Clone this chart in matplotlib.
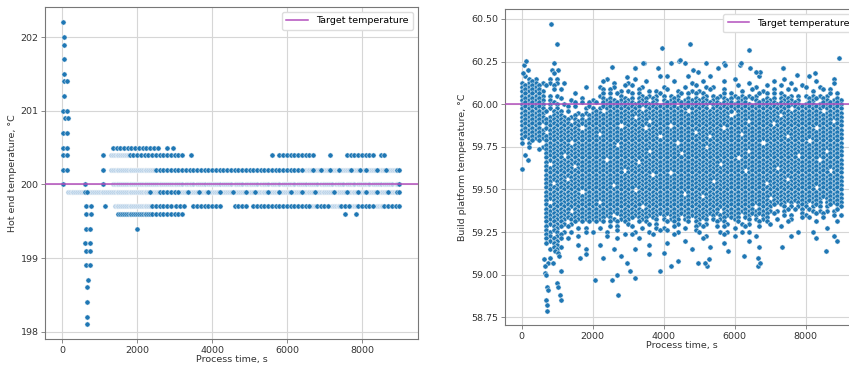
import matplotlib
matplotlib.use("Agg")
import matplotlib.pyplot as plt

# Hot end log: the sensor reports in 0.1 degree steps, so each level is stored
# as a row of 1000 s groups, one character per 50 s.
#   "#" = single reading, ":" = densely sampled stretch
hot_levels = [200.5, 200.4, 200.2, 200.0, 199.9, 199.7, 199.6]
hot_rows = [
    ". .......#.#.#.#.#.#.# .#.#.#.#.#.#....#..#",
    ". ..#...::::::::::#.#. #.#.#.#.#.#.#.#.#.#. #.#.#....# . "
    "............#...#.#. #.#.#.#.#.#.#.#..... ...#........#.#.#.#. #.#.#.#...#.#.......",
    ". ..#...:::::::::::::: ::::::::::#.#.#.#.#. #.#.#.#.#.#.#.#.#.#. #.#.#.#.#.#.#.#.#.#. "
    "#.#.#.#.#.#.#.#.#.#. #.#.#.#.#.::::#:::#: :::#::::#:::::#::::# ::#:::::#::::#:::::# #",
    ". ..#....::::::::::::: :::::::::::::::::::: :::::.:::::.:::::.:: :::::.:::::.:::::.:: "
    ":::::.:::::.:::::.:: :::::.:::::.:::::.:: :::::.:::::.:::::.:: :::::.:::::.:::::.:: #",
    "...::::::::::::::::: :::::::::::::::::::: :::::::#::::#:#:#:#: #:#::::#:::::#::::#: "
    "::::#::::::#::::::#: :::#::::::#:::::#::: ::#:::::#::::::#:::: :::::#::::::#:::::#: "
    "::#:::::#:::::#::::# #",
    ". ...#....:::::::::::: ::::::::#.#.#.#.#.#. .#.#.#....#.#.#.#.#. #.#.#.......#.#.#.#. "
    "..#.#.#.#.#.#.#.#.#. #.#.#.#.#.#.#:::#.#. #.#.:::::#.#.#::::#. #.#.#.#.::::#.#.#.#. #",
    ". ..........########## #########.#.#.#.#.#. #.#.#............... . . . "
    "...........#.....#..",
]
# warm-up overshoot and the dip after the first layer
hot_extra_t = [26, 44, 53, 44, 44, 44, 115, 44, 26, 115, 62, 150, 26, 115,
               26, 115, 26, 130, 26, 140, 10,
               621, 621, 660, 648, 773, 648, 773, 648, 755, 621, 737, 648,
               737, 648, 737, 693, 675, 675, 675, 675, 1985]
hot_extra_temp = [202.2, 202.0, 201.9, 201.7, 201.5, 201.4, 201.4, 201.2,
                  201.0, 201.0, 200.9, 200.9, 200.7, 200.7, 200.5, 200.5,
                  200.4, 200.4, 200.2, 200.2, 200.0,
                  200.0, 199.9, 199.9, 199.7, 199.7, 199.6, 199.6, 199.4,
                  199.4, 199.2, 199.2, 199.1, 199.1, 198.9, 198.9, 198.7,
                  198.6, 198.4, 198.2, 198.1, 199.4]
hot_target = 200.0

# Build platform log: bulk of the cloud on a 100 s x 0.025 degree grid,
# one row per level, 1000 s per group (odd 100 s bins sit half a step up).
plat_levels = [60.15, 60.125, 60.1, 60.075, 60.05, 60.025, 60.0, 59.975,
               59.95, 59.925, 59.9, 59.875, 59.85, 59.825, 59.8, 59.775,
               59.75, 59.725, 59.7, 59.675, 59.65, 59.625, 59.6, 59.575,
               59.55, 59.525, 59.5, 59.475, 59.45, 59.425, 59.4, 59.375,
               59.35, 59.325, 59.3, 59.275, 59.25, 59.225, 59.2, 59.175, 59.15]
plat_half_step = 0.0125
plat_rows = [
    ".##.#...#. #......... ....#..... ..#......# .#.....#.. ...#...... #......#.. ....#..... .#......#. .",
    "#.###.#.#. #.#....... ...#..#... #....#.... ...#....#. .#.....#.. ....#..... .#....#... ...#....#. .",
    "######.#.# ........#. ..#...#..# .#..#..... #.....#..# ..#.#..... .#....#..# ...#.....# #...#..... .",
    "#######..# .#........ ...#.#..#. #..#..#.#. .#..#...#. #..#...#.. ..#..#..#. .#...#.#.. ..#..#.#.. .",
    "#######.#. #....#.... ..##.#.##. .#.##.#.## #.#.##.#.# .##.#.##.# #.#.#.##.# .#.##.#.#. #.#.#.##.# .",
    "#######.#. .#..#..#.. #..####.## ##.###.##. #.###.#### ###.##.### .###.##.## ##.####.#. .###.##.## #",
    "#######.## #.#..#.#.# .#.####### #########. ####.##### ########## #####.#### #########. ###.###### #",
    "#######.#. #..#.#..## #.######## ####.##### ########## ###.###### ########## ######.### ########## #",
    "########.# ##.#..#.#. ###.###### ########## #######.## ########## .######### ########## #####.#### #",
    "#######.## ###.##.#.# ########## ##.####### ########## #########. ########## ###.###### ########## #",
    "########## ####.##### ########## ######.### ########## ########## ####.##### ########## ########.# #",
    "######.### ########## ########.# ########## ##.####### ########## ########## #.######## ########## #",
    "########## #######.## ########## #####.#### ########## #######.## ########## ########## ###.###### #",
    "#######.## ########## ##.####### ########## #########. ########## ##.####### ########## ########## #",
    "########## ########## ########## #########. ########## ###.###### ########## #####.#### ########## #",
    "#.##.#.### ####.##### ########## ########## ####.##### ########## ########.# ########## #.######## #",
    "..#...#### ########## #######.## ########## ########## ##.####### ########## ########## ########## #",
    ".....#.### ########## ########## ######.### ########## ########## ####.##### ########## ######.### #",
    ".......### ##.####### ########## ########## #####.#### ########## ########## ########.# ########## #",
    ".......### ########## ####.##### ########## ########## ########## #.######## ########## ####.##### #",
    ".......#.# ########## ########## ###.###### ########## ######.### ########## ########## ########## #",
    ".......### #####.#### ########## ########## ########## ########## ########## ##.####### ########## #",
    ".......### ########## #########. ########## ##.####### ########## ###.###### ########## #######.## #",
    ".......### ########## ########## #######.## ########## ########## ########## ########## ########## #",
    ".......### ###.###### ########## ########## ########## ####.##### ########## #####.#### ########## #",
    ".......##. ########## ######.### ########## ########## ########## #########. ########## ########## #",
    ".......### ########## ########## ##.####### ########## ########## ########## ########## ###.###### #",
    ".......### #######.## ########## ########## ######.### ########## ########## ########## ########## #",
    ".......### ########## ########## ########## ########## #.######## ########## .######### ########## #",
    ".......#.# ########## ##.####### ########## ########## ########## ########## ########## #####.#### #",
    ".......### ########## ########## ####.##### ########## ########## ######.### ##.##.#.## #.###.##.# #",
    ".......### ####.##### ########## ########## ########## ######.### ########## #.#.##.#.# .##.#.#.## .",
    ".......### ########## ######.### ########## ########## ########## ##.####### .#..#.#..# #..#.#..#. #",
    ".......### ########## ####.##.## ##.###.##. #.###.##.# ###.#.##.# ##.##.#.## ..#...#..# .#...#.... .",
    ".......### ###.##.#.# .#.#.#.#.# #..#.##.#. .#.##..#.# #.#..#.##. .##.#..#.# #....#.... ...#.....# .",
    ".......#.# ##.#..#.#. ..#..#.#.. .#..#...#. #..#..#..# .#...#.#.. #..#...#.. ...#...... ......#... .",
    ".......### #.#.#...#. #...#..#.. ..#...#..# .#..#....# #.....#.#. ..#.#..... ........#. ..#....... .",
    ".......##. ##....#... ....#....# .#.....#.. ...#...... ..#....#.. #.....#... ......#... ........#. .",
    ".......### ##.#...... .......#.. ...#...... ......#... .#........ ....#..... .......... ...#...... .",
    ".......#.# #.....#... ..#....... ......#... .#........ .......#.. .......... .......... .......... .",
    "........## ##......#. ......#... ..#....... ........#. ...#...... .......#.. .......... .......... .",
]
# readings outside the gridded band
plat_extra_t = [0, 100, 170, 65, 121, 170, 40, 816, 990, 920, 844, 1030, 900,
                650, 700, 720, 730, 700, 715, 725, 1010, 1030, 1080, 1100,
                750, 640, 800, 940, 1030, 660, 1100, 1060, 870,
                2064, 2720, 2533, 2700, 3190, 3049, 3912, 4221, 4409, 4972,
                5235, 5281, 6660, 6660, 8583, 6266, 2786, 2281, 2957, 5163,
                5802, 6713, 7323, 8891, 3600, 4000, 1800, 1650,
                2533, 2955, 3208, 3452, 3846, 3950, 4202, 4437, 4615, 4756,
                4840, 4972, 5206, 5534, 5703, 6144, 6397, 6425, 6707, 7363,
                7767, 8254, 8930, 3426, 3192, 4459, 6618, 7370, 5727, 6177]
plat_extra_temp = [59.62, 59.70, 59.67, 60.23, 60.255, 60.20, 60.18, 60.47,
                   60.35, 60.24, 60.20, 60.20, 60.18,
                   59.01, 59.00, 58.93, 58.91, 58.85, 58.82, 58.79, 58.95,
                   58.93, 58.88, 58.85, 59.07, 59.09, 59.10, 59.14, 59.13,
                   59.05, 59.02, 59.11, 59.07,
                   58.97, 58.88, 58.97, 59.00, 58.98, 59.02, 59.02, 59.05,
                   59.08, 59.07, 59.05, 59.09, 59.05, 59.10, 59.14, 59.11,
                   59.11, 59.10, 59.07, 59.07, 59.14, 59.07, 59.16, 59.20,
                   59.12, 59.13, 59.12, 59.10,
                   60.22, 60.16, 60.21, 60.24, 60.21, 60.33, 60.24, 60.255,
                   60.24, 60.35, 60.20, 60.19, 60.24, 60.21, 60.24, 60.23,
                   60.32, 60.21, 60.19, 60.21, 60.17, 60.18, 60.27, 60.24,
                   60.21, 60.26, 60.19, 60.21, 60.23, 60.24]
plat_target = 60.0

BLUE = "#1f77b4"
PALE = "#b3cee6"
TARGET = "#b34fbd"
FS = 6.8


def read_rows(levels, rows, group_s, char_s, mark="#", stagger=0.0):
    ts, vs = [], []
    for level, row in zip(levels, rows):
        for g, group in enumerate(row.split()):
            for j, ch in enumerate(group):
                if ch == mark:
                    ts.append(g * group_s + j * char_s)
                    vs.append(level + (stagger if j % 2 else 0.0))
    return ts, vs


def style(ax):
    ax.grid(True, color="#d6d6d6", lw=0.8)
    ax.set_axisbelow(True)
    for sp in ax.spines.values():
        sp.set_color("#777777")
        sp.set_linewidth(0.8)
    ax.tick_params(labelsize=FS, colors="#777777", labelcolor="#333333",
                   length=3, width=0.6, pad=1.8)
    ax.set_xlabel("Process time, s", fontsize=FS, color="#333333", labelpad=0.5)
    ax.set_xticks([0, 2000, 4000, 6000, 8000])


fig = plt.figure(figsize=(8.49, 3.67), dpi=100)

# left: hot end
ax1 = fig.add_axes([0.0534, 0.0763, 0.4386, 0.9046])
t, v = read_rows(hot_levels, hot_rows, 1000, 50, mark=":")
ax1.scatter(t, v, s=14, c=PALE, edgecolors="white", linewidths=0.35, zorder=2)
t, v = read_rows(hot_levels, hot_rows, 1000, 50)
ax1.scatter(t + hot_extra_t, v + hot_extra_temp, s=14, c=BLUE,
            edgecolors="white", linewidths=0.35, zorder=2)
ax1.axhline(hot_target, color=TARGET, lw=1.1, label="Target temperature", zorder=3)
ax1.set_xlim(-450, 9490)
ax1.set_ylim(197.9, 202.41)
ax1.set_yticks([198, 199, 200, 201, 202])
style(ax1)
ax1.set_ylabel("Hot end temperature, °C", fontsize=FS, color="#333333", labelpad=3)
ax1.legend(loc="upper right", fontsize=FS, frameon=True, edgecolor="#dddddd",
           framealpha=1, fancybox=True, borderpad=0.5, handlelength=2.3)

# right: build platform (axes runs past the right edge of the canvas)
ax2 = fig.add_axes([0.5952, 0.1144, 0.4163, 0.8602])
t, v = read_rows(plat_levels, plat_rows, 1000, 100, stagger=plat_half_step)
ax2.scatter(t + plat_extra_t, v + plat_extra_temp, s=14, c=BLUE,
            edgecolors="white", linewidths=0.35, zorder=2)
ax2.axhline(plat_target, color=TARGET, lw=1.1, label="Target temperature", zorder=3)
ax2.set_xlim(-460, 9500)
ax2.set_ylim(58.705, 60.556)
ax2.set_yticks([58.75, 59.0, 59.25, 59.5, 59.75, 60.0, 60.25, 60.5])
ax2.set_yticklabels([f"{y:.2f}" for y in ax2.get_yticks()])
style(ax2)
ax2.set_ylabel("Build platform temperature, °C", fontsize=FS, color="#333333",
               labelpad=3)
ax2.legend(loc="upper right", fontsize=FS, frameon=True, edgecolor="#dddddd",
           framealpha=1, fancybox=True, borderpad=0.5, handlelength=2.3)

fig.savefig("out.png", dpi=100)
